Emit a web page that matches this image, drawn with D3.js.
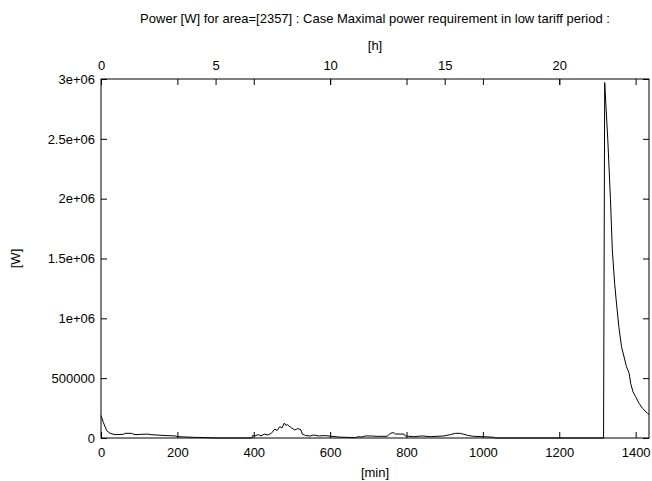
<!DOCTYPE html>
<html>
<head>
<meta charset="utf-8">
<script src="https://cdn.jsdelivr.net/npm/d3@7"></script>
<style>
    body { margin: 0; background: #fff; }
    svg text { font-family: "Liberation Sans", Arial, Helvetica, sans-serif; font-size: 13px; fill: #000; }
</style>
</head>
<body>
<svg id="chart"></svg>
<script>
// Title and axis labels
var titleText = "Power [W] for area=[2357] : Case Maximal power requirement in low tariff period :";
var xLabel = "[min]";
var x2Label = "[h]";
var yLabel = "[W]";

// Time of day in minutes
var minutes = [0, 6, 15, 24, 37, 59, 63, 80, 89, 108, 121, 131, 160, 194, 203, 246, 251, 304, 395,
    397, 402, 412, 419, 428, 437, 446, 455, 461, 468, 474, 480, 484, 488, 497, 507, 515, 523, 527,
    536, 548, 557, 570, 587, 605, 622, 640, 666, 674, 683, 692, 706, 723, 749, 758, 766, 771, 793,
    797, 819, 841, 862, 897, 915, 928, 941, 950, 963, 976, 1002, 1028, 1033, 1100, 1200, 1316,
    1319, 1327, 1334, 1339, 1345, 1349, 1356, 1363, 1376, 1383, 1387, 1393, 1400, 1409,
    1418, 1431, 1435];

// Power in W at those minutes
var power = [187000, 131000, 61000, 39000, 28000, 31000, 39000, 39000, 28000, 31000, 33000, 28000,
    22000, 17000, 11000, 5000, 5000, 0, 0,
    20000, 17000, 28000, 17000, 33000, 25000, 39000, 75000, 62000, 95000, 84000, 125000, 106000,
    111000, 89000, 67000, 78000, 70000, 33000,
    20000, 17000, 25000, 17000, 20000, 14000, 8000, 6000, 3000, 11000, 8000, 17000, 17000, 14000,
    14000, 39000, 45000, 33000, 33000,
    17000, 11000, 17000, 11000, 17000, 28000, 39000, 39000, 31000, 20000, 14000, 11000, 6000, 0,
    0, 0, 0,
    2970000, 2500000, 2000000, 1570000, 1293000, 1153000, 930000, 763000, 596000, 541000, 457000,
    387000, 345000, 290000,
    248000, 206000, 198000];

// Tick values
var xTicks = [0, 200, 400, 600, 800, 1000, 1200, 1400];
var x2Ticks = [0, 5, 10, 15, 20];
var yTicks = [0, 500000, 1000000, 1500000, 2000000, 2500000, 3000000];
var yTickLabels = ["0", "500000", "1e+06", "1.5e+06", "2e+06", "2.5e+06", "3e+06"];

function drawChart() {
    var width = 652;
    var height = 481;
    var margin = { top: 79, right: 3, bottom: 43, left: 101 };
    var innerW = width - margin.left - margin.right;
    var innerH = height - margin.top - margin.bottom;

    var svg = d3.select("#chart")
        .attr("width", width)
        .attr("height", height);

    var g = svg.append("g")
        .attr("transform", "translate(" + margin.left + "," + margin.top + ")");

    // Scales
    var xScale = d3.scaleLinear().domain([0, 1435]).range([0, innerW]);
    var x2Scale = d3.scaleLinear().domain([0, 1435 / 60]).range([0, innerW]);
    var yScale = d3.scaleLinear().domain([0, 3000000]).range([innerH, 0]);

    // Bottom axis in minutes
    g.append("g")
        .attr("transform", "translate(0," + innerH + ")")
        .call(d3.axisBottom(xScale).tickValues(xTicks).tickSize(-6).tickPadding(10).tickFormat(d3.format("d")));

    // Top axis: mirrored minute ticks plus hour ticks with labels
    g.append("g")
        .call(d3.axisTop(xScale).tickValues(xTicks).tickSize(-6).tickFormat(""));
    g.append("g")
        .call(d3.axisTop(x2Scale).tickValues(x2Ticks).tickSize(-6).tickPadding(9).tickFormat(d3.format("d")));

    // Left and right axes
    g.append("g")
        .call(d3.axisLeft(yScale).tickValues(yTicks).tickSize(-6).tickPadding(6)
            .tickFormat(function (d, i) { return yTickLabels[i]; }));
    g.append("g")
        .attr("transform", "translate(" + innerW + ",0)")
        .call(d3.axisRight(yScale).tickValues(yTicks).tickSize(-6).tickFormat(""));

    // Style axes like gnuplot
    g.selectAll(".domain").remove();
    g.selectAll(".tick line").attr("stroke", "#000");
    g.selectAll(".tick text")
        .style("font-family", "'Liberation Sans', Arial, sans-serif")
        .style("font-size", "13px");

    // Frame
    g.append("rect")
        .attr("x", 0)
        .attr("y", 0)
        .attr("width", innerW)
        .attr("height", innerH)
        .attr("fill", "none")
        .attr("stroke", "#000")
        .attr("stroke-width", 1);

    // Data line
    var line = d3.line()
        .x(function (d, i) { return xScale(minutes[i]); })
        .y(function (d) { return yScale(d); });

    g.append("path")
        .datum(power)
        .attr("d", line)
        .attr("fill", "none")
        .attr("stroke", "#000")
        .attr("stroke-width", 1);

    // Titles
    svg.append("text")
        .attr("x", margin.left + innerW / 2)
        .attr("y", 23)
        .attr("text-anchor", "middle")
        .text(titleText);

    svg.append("text")
        .attr("x", margin.left + innerW / 2)
        .attr("y", 50)
        .attr("text-anchor", "middle")
        .text(x2Label);

    svg.append("text")
        .attr("x", margin.left + innerW / 2)
        .attr("y", 477)
        .attr("text-anchor", "middle")
        .text(xLabel);

    svg.append("text")
        .attr("transform", "translate(20," + (margin.top + innerH / 2) + ") rotate(-90)")
        .attr("text-anchor", "middle")
        .text(yLabel);
}

drawChart();
</script>
</body>
</html>
